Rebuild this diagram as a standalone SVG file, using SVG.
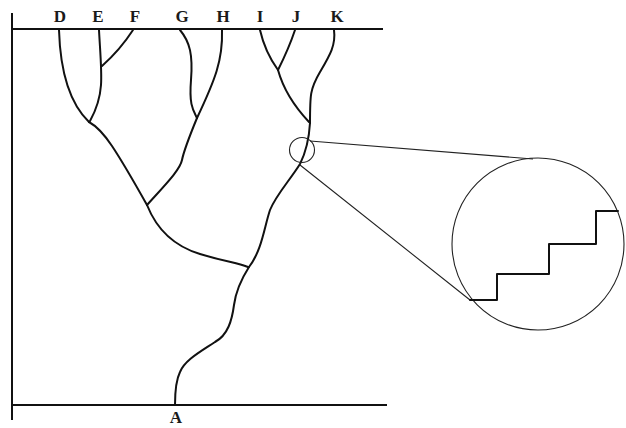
<svg xmlns="http://www.w3.org/2000/svg" width="626" height="428" viewBox="0 0 626 428">
<style>
.lbl{font-family:"Liberation Serif","Times New Roman",serif;font-size:17px;font-weight:bold;fill:#1a1a1a;text-anchor:middle}
.br{fill:none;stroke:#111;stroke-width:2;stroke-linecap:round;stroke-linejoin:round}
.ax{fill:none;stroke:#111;stroke-width:2}
.thin{fill:none;stroke:#222;stroke-width:1.1}
</style>
<rect width="626" height="428" fill="#fff"/>
<!-- axes -->
<path class="ax" d="M12,13 L12,420 M12,29 L383,29 M12,405 L387,405"/>
<!-- nodes -->
<g id="node-D"><text class="lbl" x="60" y="22">D</text></g>
<g id="node-E"><text class="lbl" x="98" y="22">E</text></g>
<g id="node-F"><text class="lbl" x="135" y="22">F</text></g>
<g id="node-G"><text class="lbl" x="182" y="22">G</text></g>
<g id="node-H"><text class="lbl" x="223" y="22">H</text></g>
<g id="node-I"><text class="lbl" x="260" y="22">I</text></g>
<g id="node-J"><text class="lbl" x="296" y="22">J</text></g>
<g id="node-K"><text class="lbl" x="337" y="22">K</text></g>
<g id="node-A"><text class="lbl" x="176" y="423">A</text></g>
<!-- connectors -->
<g id="connectors">
<path class="br" d="M59,30 Q61,95 89,122"/>
<path class="br" d="M99,30 C100,50 102,70 101,85 S95,112 90,121"/>
<path class="br" d="M133,30 Q120,50 102,66"/>
<path class="br" d="M89,122 Q100,128 112,146 T147,205"/>
<path class="br" d="M147,205 C155,225 170,245 200,254 S235,262 248,267"/>
<path class="br" d="M180,30 C190,42 193,55 191,80 S193,110 197,118"/>
<path class="br" d="M222,30 C223,60 215,80 197,118"/>
<path class="br" d="M197,118 C190,135 184,150 182,160 S165,185 147,205"/>
<path class="br" d="M260,30 Q265,52 278,70"/>
<path class="br" d="M295,30 Q289,48 278,70"/>
<path class="br" d="M278,70 C283,88 293,105 309,122"/>
<path class="br" d="M334,30 C336,45 330,55 320,72 S310,95 310,123"/>
<path class="br" d="M310,123 C309,140 306,152 300,164 C290,180 276,195 270,210 C264,228 262,250 249,267"/>
<path class="br" d="M249,267 C242,278 236,290 234,305 C232,320 228,335 215,342 C200,352 185,360 180,372 C176,380 175,392 175,405"/>
</g>
<!-- magnifier -->
<circle class="thin" cx="302" cy="150" r="12.5"/>
<circle class="thin" cx="538" cy="244" r="86"/>
<path class="thin" d="M310,141 L533,159 M300,165 L470,300"/>
<path class="br" d="M470,300 L497,300 L497,274 L549,274 L549,244 L596,244 L596,211 L618,211"/>
</svg>
